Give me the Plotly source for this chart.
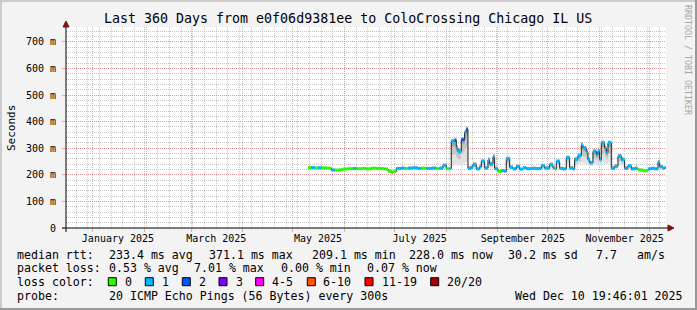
import plotly.graph_objects as go

# ---------------- data ----------------
dates = ["2025-05-10", "2025-05-12", "2025-05-14", "2025-05-16", "2025-05-18", "2025-05-21",
         "2025-05-24", "2025-05-26", "2025-05-29", "2025-05-31", "2025-06-03", "2025-06-06",
         "2025-06-08", "2025-06-11", "2025-06-14", "2025-06-17", "2025-06-20", "2025-06-23",
         "2025-06-25", "2025-06-27", "2025-06-29", "2025-06-30", "2025-07-02", "2025-07-05",
         "2025-07-07", "2025-07-09", "2025-07-12", "2025-07-15", "2025-07-17", "2025-07-20",
         "2025-07-23", "2025-07-26", "2025-07-28", "2025-07-30", "2025-08-01", "2025-08-03",
         "2025-08-04", "2025-08-06", "2025-08-07", "2025-08-08", "2025-08-10", "2025-08-12",
         "2025-08-13", "2025-08-14", "2025-08-16", "2025-08-17", "2025-08-19", "2025-08-21",
         "2025-08-22", "2025-08-24", "2025-08-26", "2025-08-27", "2025-08-29", "2025-08-30",
         "2025-09-01", "2025-09-03", "2025-09-05", "2025-09-06", "2025-09-08", "2025-09-10",
         "2025-09-12", "2025-09-14", "2025-09-16", "2025-09-18", "2025-09-21", "2025-09-24",
         "2025-09-27", "2025-09-29", "2025-10-02", "2025-10-04", "2025-10-05", "2025-10-06",
         "2025-10-08", "2025-10-10", "2025-10-12", "2025-10-14", "2025-10-16", "2025-10-17",
         "2025-10-19", "2025-10-21", "2025-10-22", "2025-10-24", "2025-10-25", "2025-10-26",
         "2025-10-28", "2025-10-30", "2025-10-31", "2025-11-01", "2025-11-02", "2025-11-04",
         "2025-11-05", "2025-11-06", "2025-11-08", "2025-11-10", "2025-11-12", "2025-11-14",
         "2025-11-16", "2025-11-18", "2025-11-20", "2025-11-22", "2025-11-24", "2025-11-27",
         "2025-11-30", "2025-12-02", "2025-12-04", "2025-12-06", "2025-12-07", "2025-12-09",
         "2025-12-10"]

median = [226, 227, 225, 226, 226, 225, 218, 218, 219, 222, 223, 224,
          223, 224, 222, 225, 224, 223, 222, 214, 209, 213, 224, 225,
          224, 225, 226, 224, 225, 224, 225, 223, 225, 236, 223, 224,
          326, 330, 300, 289, 332, 360, 372, 224, 228, 238, 222, 230,
          251, 225, 256, 240, 268, 223, 213, 215, 213, 260, 228, 222,
          232, 221, 226, 223, 224, 223, 234, 225, 238, 226, 222, 250,
          224, 222, 264, 225, 222, 258, 272, 313, 300, 286, 257, 245,
          288, 275, 290, 257, 320, 300, 283, 320, 224, 232, 270, 257,
          224, 234, 222, 224, 218, 215, 222, 224, 222, 247, 230, 224,
          228]

loss = [0, 1, 0, 1, 0, 0, 1, 0, 0, 0, 0, 1,
        0, 0, 0, 0, 0, 0, 0, 0, 0, 0, 1, 1,
        0, 1, 1, 1, 0, 1, 1, 0, 1, 1, 0, 1,
        1, 2, 1, 1, 2, 1, 2, 1, 1, 1, 1, 1,
        1, 1, 1, 1, 1, 1, 0, 1, 1, 1, 1, 1,
        1, 1, 1, 1, 1, 1, 1, 1, 1, 1, 0, 1,
        1, 1, 1, 1, 1, 1, 1, 1, 1, 1, 1, 1,
        1, 1, 1, 1, 1, 1, 1, 1, 1, 1, 1, 1,
        1, 1, 1, 1, 0, 0, 1, 1, 1, 1, 1, 1,
        1]

smoke_lo = [222, 223, 221, 222, 222, 221, 214, 214, 215, 218, 219, 220,
            219, 220, 218, 221, 220, 219, 218, 210, 205, 209, 220, 221,
            220, 221, 222, 220, 221, 220, 221, 219, 221, 224, 219, 220,
            235, 238, 236, 235, 240, 245, 248, 220, 221, 223, 218, 220,
            225, 220, 226, 224, 228, 219, 209, 211, 209, 224, 220, 218,
            220, 217, 220, 219, 220, 219, 222, 220, 224, 220, 218, 226,
            220, 218, 230, 220, 218, 232, 238, 245, 242, 240, 235, 232,
            240, 238, 240, 236, 245, 242, 240, 245, 220, 222, 236, 232,
            220, 222, 218, 220, 214, 211, 218, 220, 218, 225, 221, 220,
            222]

smoke_hi = [231, 232, 230, 231, 230, 229, 223, 222, 223, 226, 227, 229,
            227, 228, 227, 229, 228, 227, 226, 219, 214, 218, 229, 230,
            228, 230, 231, 229, 229, 229, 230, 227, 230, 242, 227, 229,
            335, 338, 310, 298, 340, 368, 378, 232, 236, 246, 228, 238,
            258, 232, 264, 248, 276, 230, 218, 221, 219, 268, 235, 228,
            238, 227, 232, 229, 230, 229, 240, 231, 245, 232, 227, 258,
            230, 228, 272, 232, 228, 266, 280, 322, 308, 294, 265, 252,
            296, 284, 298, 265, 328, 308, 292, 328, 232, 240, 278, 265,
            231, 241, 229, 230, 223, 220, 228, 230, 228, 255, 237, 230,
            234]

x_start = "2024-12-15 19:46:01"
x_end = "2025-12-10 19:46:01"

month_starts = ["2025-01-01", "2025-02-01", "2025-03-01", "2025-04-01", "2025-05-01",
                "2025-06-01", "2025-07-01", "2025-08-01", "2025-09-01", "2025-10-01",
                "2025-11-01", "2025-12-01"]
label_dates = ["2025-01-16", "2025-03-16", "2025-05-16", "2025-07-16", "2025-09-16", "2025-11-16"]
label_text = ["January 2025", "March 2025", "May 2025", "July 2025", "September 2025", "November 2025"]

y_ticks = [0, 100, 200, 300, 400, 500, 600, 700]
y_text = ["0", "100 m", "200 m", "300 m", "400 m", "500 m", "600 m", "700 m"]

loss_labels = ["0", "1", "2", "3", "4-5", "6-10", "11-19", "20/20"]
loss_colors = ["#26ff00", "#00b8ff", "#0059ff", "#7e00ff", "#ff00ff", "#ff5500", "#ff0000", "#a10000"]

rtt_stats = ["233.4 ms avg", "371.1 ms max", "209.1 ms min", "228.0 ms now", "30.2 ms sd", "7.7", "am/s"]
loss_stats = ["0.53 % avg", "7.01 % max", "0.00 % min", "0.07 % now"]
probe_text = "20 ICMP Echo Pings (56 Bytes) every 300s"
stamp_text = "Wed Dec 10 19:46:01 2025"
title_text = "Last 360 Days from e0f06d9381ee to ColoCrossing Chicago IL US"

# ---------------- layout geometry ----------------
W, H = 697, 310
PL, PR, PT, PB = 66, 666, 27, 228
FONT = "DejaVu Sans Mono"


def px(x):
    return (x - PL) / (PR - PL)


def py(y):
    return (PB - y) / (PB - PT)


fig = go.Figure()

# smoke bands (lighter far from median, darker close to it)
q1 = [lo + (m - lo) * 0.45 for lo, m in zip(smoke_lo, median)]
q2 = [lo + (m - lo) * 0.8 for lo, m in zip(smoke_lo, median)]
for base, col in [(smoke_lo, "#e2e2e2"), (q1, "#c6c6c6"), (q2, "#a4a4a4")]:
    fig.add_trace(go.Scatter(x=dates, y=base, mode="lines", line=dict(width=0, shape="hv"),
                             hoverinfo="skip", showlegend=False))
    fig.add_trace(go.Scatter(x=dates, y=smoke_hi, mode="lines", line=dict(width=0, shape="hv"),
                             fill="tonexty", fillcolor=col, hoverinfo="skip", showlegend=False))

# black median step line
seg_end = dates[1:] + [x_end]
fig.add_trace(go.Scatter(x=dates + [x_end], y=median + [median[-1]], mode="lines",
                         line=dict(color="#202020", width=1, shape="hv"),
                         hoverinfo="skip", showlegend=False))

# loss-coloured median segments
for k in sorted(set(loss)):
    xs, ys = [], []
    for d0, d1, m, l in zip(dates, seg_end, median, loss):
        if l == k:
            xs += [d0, d1, None]
            ys += [m, m, None]
    fig.add_trace(go.Scatter(x=xs, y=ys, mode="lines",
                             line=dict(color=loss_colors[k], width=3),
                             hoverinfo="skip", showlegend=False))

# invisible trace for label axis
fig.add_trace(go.Scatter(x=[x_start], y=[0], xaxis="x2", mode="markers",
                         marker=dict(opacity=0), hoverinfo="skip", showlegend=False))

MAJ = "rgba(240,120,120,0.65)"
MIN = "rgba(180,180,180,0.75)"

fig.update_layout(
    width=W, height=H,
    margin=dict(l=PL, r=W - PR, t=PT, b=H - PB, pad=0),
    paper_bgcolor="#f3f3f3", plot_bgcolor="#ffffff",
    font=dict(family=FONT, size=10, color="#000000"),
    showlegend=False,
    xaxis=dict(type="date", range=[x_start, x_end], tickmode="array", tickvals=month_starts,
               showticklabels=False, showgrid=True, gridcolor=MAJ, griddash="1px,1px",
               gridwidth=1, ticks="outside", ticklen=3, tickcolor=MAJ, showline=False,
               zeroline=False, fixedrange=True,
               minor=dict(tick0="2024-12-15", dtick=7 * 86400000, showgrid=True,
                          gridcolor=MIN, griddash="1px,1px", gridwidth=1)),
    xaxis2=dict(type="date", range=[x_start, x_end], overlaying="x", side="bottom", anchor="y",
                tickmode="array", tickvals=label_dates, ticktext=label_text, showgrid=False,
                showline=False, zeroline=False, ticks="", ticklabelstandoff=3,
                tickfont=dict(family=FONT, size=10, color="#000000")),
    yaxis=dict(range=[0, 756], tickmode="array", tickvals=y_ticks, ticktext=y_text,
               showgrid=True, gridcolor=MAJ, griddash="1px,1px", gridwidth=1,
               ticks="outside", ticklen=3, tickcolor=MAJ, ticklabelstandoff=4,
               showline=False, zeroline=False, fixedrange=True,
               tickfont=dict(family=FONT, size=10, color="#000000"),
               minor=dict(dtick=20, showgrid=True, gridcolor=MIN, griddash="1px,1px", gridwidth=1)),
)

shapes = []
# 3D frame
shapes.append(dict(type="rect", xref="paper", yref="paper", x0=px(0), x1=px(2), y0=py(H), y1=py(0),
                   fillcolor="#cbcbcb", line=dict(width=0), layer="above"))
shapes.append(dict(type="rect", xref="paper", yref="paper", x0=px(0), x1=px(W), y0=py(2), y1=py(0),
                   fillcolor="#cbcbcb", line=dict(width=0), layer="above"))
shapes.append(dict(type="rect", xref="paper", yref="paper", x0=px(W - 2), x1=px(W), y0=py(H), y1=py(0),
                   fillcolor="#999999", line=dict(width=0), layer="above"))
shapes.append(dict(type="rect", xref="paper", yref="paper", x0=px(0), x1=px(W), y0=py(H), y1=py(H - 2),
                   fillcolor="#999999", line=dict(width=0), layer="above"))
# axes
shapes.append(dict(type="line", xref="paper", yref="paper", x0=px(62), x1=px(670), y0=0, y1=0,
                   line=dict(color="#000000", width=1), layer="above"))
shapes.append(dict(type="line", xref="paper", yref="paper", x0=0, x1=0, y0=py(232), y1=py(23),
                   line=dict(color="#000000", width=1), layer="above"))
# arrows
shapes.append(dict(type="path", xref="paper", yref="paper",
                   path=f"M {px(63)} {py(27)} L {px(69)} {py(27)} L {px(66)} {py(21)} Z",
                   fillcolor="#7f1010", line=dict(color="#7f1010", width=1), layer="above"))
shapes.append(dict(type="path", xref="paper", yref="paper",
                   path=f"M {px(668)} {py(225)} L {px(668)} {py(231)} L {px(674)} {py(228)} Z",
                   fillcolor="#7f1010", line=dict(color="#7f1010", width=1), layer="above"))

annotations = []


def txt(x, y, s, size=11.6, color="#000000", anchor="left", angle=0):
    annotations.append(dict(xref="paper", yref="paper", x=px(x), y=py(y), text=s.replace(" ", "\u00a0"),
                            showarrow=False, xanchor=anchor, yanchor="middle", textangle=angle,
                            font=dict(family=FONT, size=size, color=color)))


txt(348, 19, title_text, size=13.3, anchor="center")
txt(11, 128, "Seconds", size=11, anchor="center", angle=-90)
txt(688, 60, "RRDTOOL / TOBI OETIKER", size=8.3, color="#a6a6a6", anchor="center", angle=90)

# legend row 1
txt(15, 254.5, "median rtt:")
for x, s in zip([106.5, 206.5, 310, 406.5, 506, 593.5, 635], rtt_stats):
    txt(x, 254.5, s)
# row 2
txt(15, 268, "packet loss:")
for x, s in zip([106.5, 192, 278.5, 364.5], loss_stats):
    txt(x, 268, s)
# row 3
txt(15, 282, "loss color:")
box_x = [108.3, 145.3, 182.3, 219, 255.7, 307.3, 365, 430.7]
lab_x = [122.5, 160, 197, 234, 270, 321, 380, 445.5]
for bx, lx, lab, col in zip(box_x, lab_x, loss_labels, loss_colors):
    shapes.append(dict(type="rect", xref="paper", yref="paper", x0=px(bx), x1=px(bx + 8),
                       y0=py(285.7), y1=py(277.7), fillcolor=col,
                       line=dict(color="#000000", width=1), layer="above"))
    txt(lx, 282, lab)
# row 4
txt(15, 296, "probe:")
txt(106.5, 296, probe_text)
txt(512.5, 296, stamp_text)

fig.update_layout(shapes=shapes, annotations=annotations)
fig.write_html("out.html", config={"displayModeBar": False})
